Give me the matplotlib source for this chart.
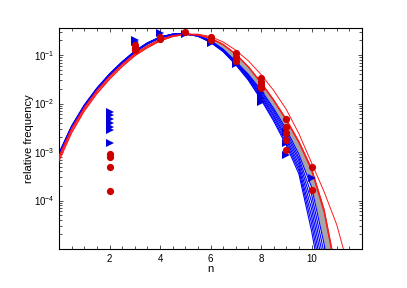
import numpy as np
import matplotlib
matplotlib.use('Agg')
import matplotlib.pyplot as plt
from matplotlib.ticker import MultipleLocator, LogLocator, NullFormatter

plt.rcParams['font.family'] = ['Liberation Sans', 'DejaVu Sans']
plt.rcParams['mathtext.fontset'] = 'custom'
plt.rcParams['mathtext.rm'] = 'Liberation Sans'

# model curves, log10(relative frequency) sampled every 0.5 in n
N_GRID = np.arange(0, 12.01, 0.5)

BLUE_CURVES = [
    [-3.02, -2.46, -2.03, -1.68, -1.39, -1.14, -0.92, -0.75, -0.63, -0.57, -0.56, -0.60,
     -0.70, -0.88, -1.13, -1.40, -1.72, -2.10, -2.53, -3.05, -3.72, -4.90, -6.40],
    [-3.03, -2.47, -2.04, -1.69, -1.39, -1.14, -0.92, -0.75, -0.63, -0.57, -0.56, -0.60,
     -0.71, -0.89, -1.14, -1.42, -1.75, -2.14, -2.58, -3.12, -3.87, -5.09, -6.60],
    [-3.04, -2.48, -2.05, -1.70, -1.40, -1.15, -0.93, -0.76, -0.63, -0.57, -0.56, -0.60,
     -0.71, -0.90, -1.15, -1.44, -1.79, -2.18, -2.64, -3.18, -4.02, -5.28, -6.80],
    [-3.05, -2.49, -2.05, -1.70, -1.40, -1.15, -0.93, -0.76, -0.64, -0.57, -0.56, -0.60,
     -0.72, -0.91, -1.16, -1.46, -1.82, -2.23, -2.70, -3.25, -4.17, -5.47, -6.95],
    [-3.06, -2.49, -2.06, -1.71, -1.41, -1.16, -0.93, -0.76, -0.64, -0.58, -0.57, -0.61,
     -0.73, -0.91, -1.17, -1.48, -1.85, -2.27, -2.75, -3.32, -4.32, -5.66, -7.10],
    [-3.07, -2.50, -2.06, -1.71, -1.41, -1.16, -0.94, -0.77, -0.64, -0.58, -0.57, -0.61,
     -0.73, -0.92, -1.19, -1.50, -1.89, -2.32, -2.81, -3.38, -4.47, -5.85, -7.30],
    [-3.08, -2.51, -2.07, -1.72, -1.42, -1.17, -0.94, -0.77, -0.65, -0.58, -0.57, -0.61,
     -0.74, -0.93, -1.20, -1.52, -1.92, -2.36, -2.86, -3.45, -4.62, -6.05, -7.50],
]

RED_CURVES = [
    [-3.08, -2.51, -2.08, -1.73, -1.44, -1.19, -0.97, -0.81, -0.68, -0.60, -0.57, -0.58,
     -0.65, -0.78, -0.98, -1.24, -1.56, -1.92, -2.32, -2.78, -3.33, -4.18, -5.50],
    [-3.12, -2.55, -2.11, -1.76, -1.47, -1.21, -0.99, -0.83, -0.70, -0.61, -0.58, -0.58,
     -0.65, -0.78, -0.98, -1.24, -1.57, -1.93, -2.33, -2.79, -3.35, -4.21, -5.55],
    [-3.16, -2.59, -2.14, -1.79, -1.50, -1.24, -1.01, -0.85, -0.71, -0.62, -0.58, -0.59,
     -0.66, -0.79, -0.99, -1.25, -1.58, -1.94, -2.35, -2.81, -3.38, -4.25, -5.60],
    [-3.19, -2.61, -2.16, -1.80, -1.50, -1.24, -1.02, -0.85, -0.71, -0.62, -0.57, -0.57,
     -0.62, -0.73, -0.90, -1.12, -1.40, -1.73, -2.12, -2.62, -3.22, -3.82, -4.50, -5.45],
]

# observed frequencies
blue_n = [2, 2, 2, 2, 2, 2, 2, 3, 3, 4, 5, 6, 7, 8, 8, 8, 9, 9, 9, 10]
blue_f = [6.7e-3, 5.7e-3, 4.9e-3, 3.9e-3, 3.3e-3, 2.8e-3, 1.55e-3, 0.204, 0.187,
          0.29, 0.27, 0.174, 0.065, 0.0163, 0.0128, 0.011, 2.6e-3, 1.5e-3, 8.7e-4, 2.95e-4]

red_n = [2, 2, 2, 2, 3, 3, 3, 4, 4, 5, 6, 6, 7, 7, 7, 8, 8, 8, 8, 9, 9, 9, 9, 9, 10, 10]
red_f = [9.1e-4, 8.0e-4, 4.8e-4, 1.6e-4, 0.162, 0.141, 0.126, 0.24, 0.214, 0.293,
         0.23, 0.204, 0.108, 0.089, 0.076, 0.033, 0.028, 0.024, 0.0205,
         4.9e-3, 3.3e-3, 2.5e-3, 1.78e-3, 1.1e-3, 4.8e-4, 1.66e-4]

fig = plt.figure(figsize=(4.07, 2.88), dpi=100)
ax = fig.add_axes([59 / 407, 39 / 288, 303 / 407, 221 / 288])

# grey band between the top blue fit and the first red fit
top_blue = np.array(BLUE_CURVES[0])
first_red = np.array(RED_CURVES[0])
ax.fill_between(N_GRID[:len(top_blue)], 10 ** top_blue, 10 ** first_red,
                color='#a6a6a6', lw=0, zorder=1)

for c in BLUE_CURVES:
    ax.plot(N_GRID[:len(c)], 10 ** np.array(c), color='#0000ff', lw=0.8, zorder=2)
for c in RED_CURVES:
    ax.plot(N_GRID[:len(c)], 10 ** np.array(c), color='#ff1a1a', lw=0.7, zorder=3)

ax.plot(blue_n, blue_f, '>', color='#0000dd', ms=5.2, mew=0, zorder=4)
ax.plot(red_n, red_f, 'o', color='#cc0000', ms=5.2, mew=0, zorder=5)

ax.set_yscale('log')
ax.set_xlim(0, 12)
ax.set_ylim(1e-5, 10 ** -0.443)
ax.set_xticks([2, 4, 6, 8, 10])
ax.xaxis.set_minor_locator(MultipleLocator(0.5))
ax.set_yticks([1e-4, 1e-3, 1e-2, 1e-1])
ax.yaxis.set_minor_locator(LogLocator(base=10, subs=np.arange(2, 10)))
ax.yaxis.set_minor_formatter(NullFormatter())
ax.tick_params(which='both', direction='in', top=True, right=True,
               labelsize=7, width=0.6, color='#333333')
ax.tick_params(which='major', length=3)
ax.tick_params(which='minor', length=2)
for s in ax.spines.values():
    s.set_linewidth(0.8)

ax.set_xlabel('n', fontsize=8, labelpad=0)
ax.set_ylabel('relative frequency', fontsize=8, labelpad=0)

fig.savefig('out.png', dpi=100)
